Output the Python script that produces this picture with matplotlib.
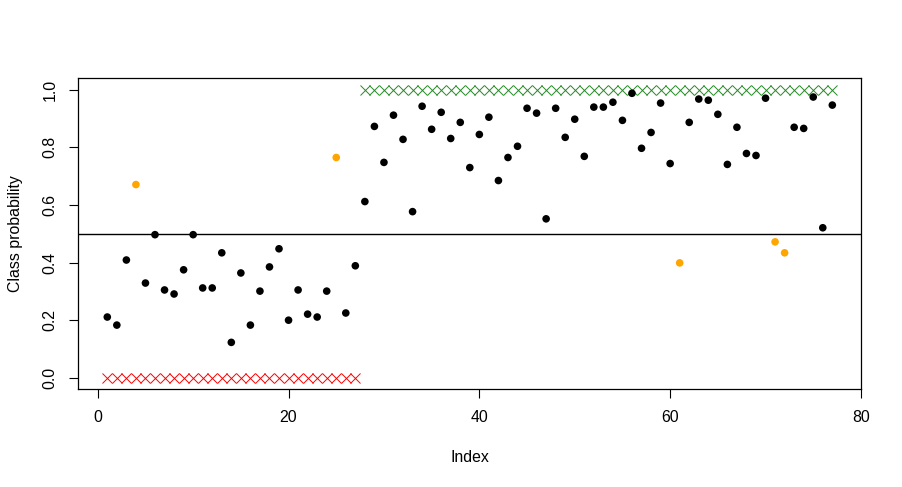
import numpy as np
import matplotlib
matplotlib.use("Agg")
import matplotlib.pyplot as plt

plt.rcParams['font.family'] = ['Liberation Sans', 'DejaVu Sans']

# predicted class probability for each observation (index 1..77)
prob = [0.211, 0.183, 0.409, 0.671, 0.329, 0.497, 0.305, 0.291, 0.375, 0.497,
        0.312, 0.312, 0.434, 0.123, 0.364, 0.183, 0.301, 0.385, 0.448, 0.200,
        0.305, 0.221, 0.211, 0.301, 0.765, 0.225, 0.389, 0.612, 0.873, 0.748,
        0.912, 0.828, 0.577, 0.943, 0.863, 0.922, 0.831, 0.887, 0.730, 0.845,
        0.905, 0.685, 0.765, 0.804, 0.936, 0.919, 0.552, 0.936, 0.835, 0.898,
        0.769, 0.940, 0.940, 0.957, 0.894, 0.988, 0.797, 0.852, 0.954, 0.744,
        0.399, 0.887, 0.968, 0.964, 0.915, 0.741, 0.870, 0.779, 0.772, 0.971,
        0.472, 0.434, 0.870, 0.866, 0.975, 0.521, 0.947]
# true class labels
labels = [0] * 27 + [1] * 50
threshold = 0.5

prob = np.array(prob)
labels = np.array(labels)
idx = np.arange(1, len(prob) + 1)
wrong = (prob > threshold).astype(int) != labels
cols = np.where(wrong, '#FFA500', 'black')

fig = plt.figure(figsize=(9.02, 4.87), dpi=100)
ax = fig.add_axes([0.0868, 0.2006, 0.8681, 0.6386])

ax.axhline(threshold, color='black', lw=1.0, zorder=1)
c0 = labels == 0
ax.plot(idx[c0], labels[c0], ls='none', marker='x', ms=6.8, mew=0.7,
        color='red', zorder=2)
ax.plot(idx[~c0], labels[~c0], ls='none', marker='x', ms=6.8, mew=0.7,
        color='#228B22', zorder=2)
ax.scatter(idx, prob, c=cols, s=30, linewidths=0, zorder=3)

ax.set_xlim(-2.04, 80.04)
ax.set_ylim(-0.04, 1.04)
ax.set_xticks([0, 20, 40, 60, 80])
ax.set_yticks([0.0, 0.2, 0.4, 0.6, 0.8, 1.0])
ax.set_yticklabels(['0.0', '0.2', '0.4', '0.6', '0.8', '1.0'],
                   rotation=90, va='center')
ax.tick_params(length=6.8, width=0.8, labelsize=11.4, colors='black')
ax.tick_params(axis='x', pad=8)
ax.tick_params(axis='y', pad=8)
for s in ax.spines.values():
    s.set_linewidth(0.9)

ax.set_xlabel('Index', fontsize=11.4, labelpad=18)
ax.set_ylabel('Class probability', fontsize=11.4, labelpad=14)

fig.savefig('out.png', dpi=100)
